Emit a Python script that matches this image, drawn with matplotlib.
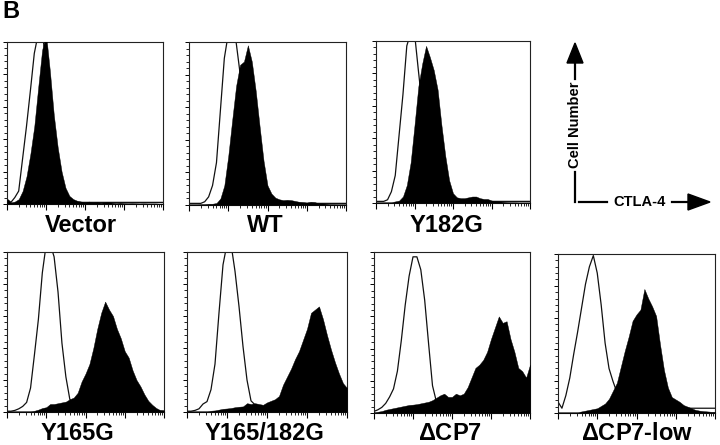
import numpy as np
import matplotlib
matplotlib.use("Agg")
import matplotlib.pyplot as plt
from matplotlib.ticker import MultipleLocator, LogLocator, NullFormatter

plt.rcParams['font.family'] = ['Liberation Sans', 'DejaVu Sans']
plt.rcParams['mathtext.fontset'] = 'custom'
plt.rcParams['mathtext.it'] = 'Liberation Sans:italic'
plt.rcParams['mathtext.rm'] = 'Liberation Sans:bold'
plt.rcParams['mathtext.bf'] = 'Liberation Sans:bold'

# log10 fluorescence grid (4 decades) and histogram heights (fraction of panel height)
log_fl = np.linspace(0, 4, 41)

panel_names = ["Vector", "WT", "Y182G", "Y165G", "Y165/182G", r"$\mathit{\Delta}$CP7", r"$\mathit{\Delta}$CP7-low"]

vector_ctrl = [0.03, 0.01, 0.04, 0.08, 0.28, 0.48, 0.70, 0.93, 1.05, 1.05, 0.90, 0.50, 0.20, 0.06, 0.02] + [0.01] * 26
vector_stain = [0.03, 0.01, 0.015, 0.03, 0.08, 0.17, 0.31, 0.48, 0.72, 0.95, 1.05, 0.82, 0.55, 0.35, 0.20,
                0.10, 0.05, 0.03, 0.02, 0.015, 0.01, 0.015, 0.01, 0.012, 0.008, 0.01, 0.012, 0.008, 0.006,
                0.008, 0.006, 0.005, 0.006, 0.005, 0.004, 0.005, 0.004, 0.004, 0.004, 0.003, 0.003]

wt_ctrl = [0.01, 0.01, 0.01, 0.01, 0.02, 0.05, 0.12, 0.26, 0.58, 0.90, 1.05, 1.05, 1.00, 0.81, 0.55, 0.30,
           0.10, 0.04, 0.02] + [0.01] * 22
wt_stain = [0.005, 0.005, 0.005, 0.006, 0.006, 0.008, 0.008, 0.012, 0.04, 0.12, 0.30, 0.52, 0.73, 0.86,
            0.88, 0.98, 0.88, 0.70, 0.48, 0.27, 0.12, 0.07, 0.045, 0.035, 0.03, 0.032, 0.03, 0.025, 0.02,
            0.018, 0.015, 0.02, 0.018, 0.01, 0.01, 0.008, 0.006, 0.006, 0.005, 0.005, 0.005]

y182g_ctrl = [0.01, 0.01, 0.01, 0.02, 0.07, 0.17, 0.42, 0.67, 0.97, 1.05, 1.05, 0.82, 0.60, 0.42, 0.22,
              0.10, 0.04, 0.02] + [0.01] * 23
y182g_stain = [0.005, 0.005, 0.005, 0.005, 0.005, 0.01, 0.015, 0.04, 0.11, 0.25, 0.48, 0.72, 0.86, 0.97,
               0.90, 0.82, 0.70, 0.48, 0.29, 0.14, 0.06, 0.035, 0.03, 0.03, 0.035, 0.04, 0.04, 0.03, 0.025,
               0.025, 0.015, 0.012, 0.01, 0.008, 0.006, 0.005, 0.005, 0.004, 0.004, 0.004, 0.004]

y165g_ctrl = [0.005, 0.005, 0.01, 0.02, 0.035, 0.06, 0.15, 0.36, 0.58, 0.87, 1.05, 1.05, 0.97, 0.75, 0.43,
              0.22, 0.08, 0.04, 0.02, 0.01] + [0.005] * 21
y165g_stain = [0.005] * 7 + [0.008, 0.015, 0.025, 0.03, 0.05, 0.05, 0.055, 0.06, 0.065, 0.08, 0.09, 0.12,
                             0.19, 0.24, 0.30, 0.40, 0.52, 0.62, 0.69, 0.64, 0.60, 0.52, 0.46, 0.38, 0.34,
                             0.26, 0.20, 0.16, 0.11, 0.07, 0.045, 0.025, 0.012, 0.01]

y165182g_ctrl = [0.005, 0.005, 0.01, 0.02, 0.05, 0.065, 0.14, 0.30, 0.62, 0.92, 1.05, 1.05, 0.88, 0.66,
                 0.41, 0.20, 0.07, 0.045, 0.03, 0.02] + [0.01] * 21
y165182g_stain = [0.005] * 6 + [0.008, 0.01, 0.015, 0.02, 0.022, 0.025, 0.03, 0.033, 0.035, 0.055, 0.05,
                                0.055, 0.05, 0.045, 0.06, 0.07, 0.08, 0.10, 0.17, 0.22, 0.27, 0.33, 0.38,
                                0.45, 0.52, 0.62, 0.64, 0.66, 0.58, 0.48, 0.39, 0.31, 0.24, 0.18, 0.15]

dcp7_ctrl = [0.01, 0.02, 0.035, 0.06, 0.10, 0.15, 0.26, 0.45, 0.67, 0.85, 0.97, 0.97, 0.89, 0.70, 0.43,
             0.17, 0.07, 0.04] + [0.03] * 23
dcp7_stain = [0.005, 0.008, 0.012, 0.02, 0.025, 0.03, 0.035, 0.04, 0.045, 0.05, 0.052, 0.055, 0.06, 0.065,
              0.07, 0.08, 0.095, 0.11, 0.12, 0.10, 0.10, 0.12, 0.11, 0.12, 0.16, 0.22, 0.28, 0.30, 0.33,
              0.38, 0.46, 0.53, 0.60, 0.56, 0.57, 0.46, 0.38, 0.28, 0.26, 0.22, 0.30]

dcp7low_ctrl = [0.07, 0.03, 0.11, 0.22, 0.37, 0.51, 0.66, 0.81, 0.92, 0.99, 0.88, 0.68, 0.44, 0.28, 0.20,
                0.13, 0.08, 0.05] + [0.03] * 23
dcp7low_stain = [0.005] * 6 + [0.01, 0.015, 0.02, 0.025, 0.03, 0.045, 0.06, 0.09, 0.14, 0.19, 0.29, 0.39,
                               0.48, 0.58, 0.62, 0.65, 0.78, 0.72, 0.67, 0.61, 0.43, 0.27, 0.16, 0.10,
                               0.085, 0.07, 0.05, 0.04, 0.03, 0.02, 0.015, 0.012, 0.01, 0.008, 0.008]

ctrl_series = [vector_ctrl, wt_ctrl, y182g_ctrl, y165g_ctrl, y165182g_ctrl, dcp7_ctrl, dcp7low_ctrl]
stain_series = [vector_stain, wt_stain, y182g_stain, y165g_stain, y165182g_stain, dcp7_stain, dcp7low_stain]

# layout (pixel boxes: left, top, right, bottom) in a 720x445 figure
W, H = 720, 445
boxes = [(7, 42, 163, 204), (189, 42, 346, 205), (376, 41, 530, 203),
         (7, 252, 164, 412), (187, 252, 347, 412), (374, 252, 530, 413), (558, 254, 715, 413)]
label_pos = [(81, 225), (265, 225), (446, 225), (77, 434), (264, 434), (450, 434), (637, 434)]

fig = plt.figure(figsize=(W / 100, H / 100), dpi=100)
fig.patch.set_facecolor("white")

fl = 10 ** log_fl
for name, ctrl, stain, (l, t, r, b), (lx, ly) in zip(panel_names, ctrl_series, stain_series, boxes, label_pos):
    ax = fig.add_axes([l / W, 1 - b / H, (r - l) / W, (b - t) / H])
    ax.plot(fl, ctrl, color="#111111", lw=0.9, zorder=2)
    ax.fill_between(fl, 0, stain, color="black", lw=0.3, zorder=3)
    ax.set_xscale("log")
    ax.set_xlim(1, 1e4)
    ax.set_ylim(0, 1)
    ax.xaxis.set_major_locator(LogLocator(base=10, numticks=10))
    ax.xaxis.set_minor_locator(LogLocator(base=10, subs=np.arange(2, 10), numticks=20))
    ax.xaxis.set_major_formatter(NullFormatter())
    ax.xaxis.set_minor_formatter(NullFormatter())
    ax.yaxis.set_major_locator(MultipleLocator(0.2))
    ax.yaxis.set_minor_locator(MultipleLocator(0.04))
    ax.set_yticklabels([])
    ax.tick_params(axis="x", which="major", direction="out", length=4, width=0.8, bottom=True, top=False)
    ax.tick_params(axis="x", which="minor", direction="out", length=2.2, width=0.6, bottom=True, top=False)
    ax.tick_params(axis="y", which="major", direction="out", length=3, width=0.7, left=True, right=False)
    ax.tick_params(axis="y", which="minor", direction="out", length=2, width=0.6, left=True, right=False)
    for s in ax.spines.values():
        s.set_linewidth(0.8)
        s.set_color("#222222")
    fig.text(lx / W, 1 - ly / H, name, ha="center", va="center", fontsize=17, fontweight="bold")

fig.text(2 / W, 1 - 12 / H, "B", ha="left", va="center", fontsize=17, fontweight="bold")

# axis-direction legend
lg = fig.add_axes([0, 0, 1, 1])
lg.set_xlim(0, W)
lg.set_ylim(H, 0)
lg.axis("off")
lg.patch.set_alpha(0)
vx, hy = 575, 202
lg.plot([vx, vx], [hy, 172], color="black", lw=1.6)
lg.plot([vx, vx], [79, 62], color="black", lw=1.6)
lg.fill([vx - 8, vx + 8, vx], [63, 63, 43], color="black")
lg.text(vx, 125, "Cell Number", rotation=90, ha="center", va="center", fontsize=10.5, fontweight="bold")
lg.plot([579, 607], [hy, hy], color="black", lw=1.6)
lg.plot([672, 689], [hy, hy], color="black", lw=1.6)
lg.fill([688, 688, 710], [hy - 8, hy + 8, hy], color="black")
lg.text(640, hy, "CTLA-4", ha="center", va="center", fontsize=10.5, fontweight="bold")

fig.savefig("out.png", dpi=100, facecolor="white")
